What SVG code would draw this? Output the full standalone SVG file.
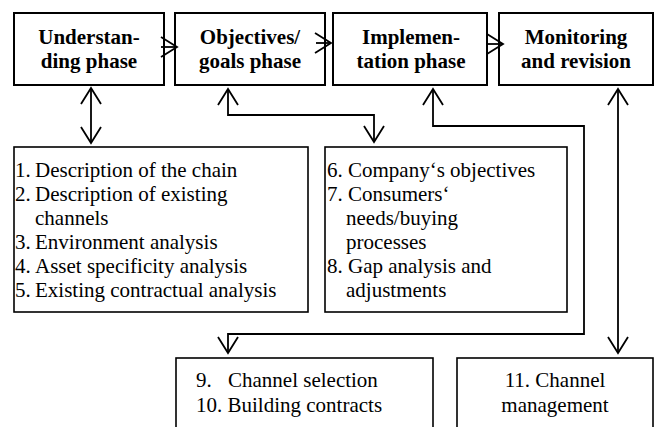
<svg xmlns="http://www.w3.org/2000/svg" width="655" height="427" viewBox="0 0 655 427">
<style>
.phase{fill:#fff;stroke:#000;stroke-width:2}
.box{fill:#fff;stroke:#000;stroke-width:1.6}
.pt{font-family:"Liberation Serif","Times New Roman",serif;font-size:21px;font-weight:bold;fill:#000;text-anchor:middle}
.lt{font-family:"Liberation Serif","Times New Roman",serif;font-size:21px;fill:#000}
.ct{text-anchor:middle}
.conn{fill:none;stroke:#000;stroke-width:1.8}
</style>
<defs>
<marker id="arr" viewBox="-17 -11 19 22" refX="0" refY="0" markerWidth="19" markerHeight="22" markerUnits="userSpaceOnUse" orient="auto-start-reverse">
<path d="M-16,-10 L0,0 L-16,10" fill="none" stroke="#000" stroke-width="1.8"/>
</marker>
</defs>
<rect width="655" height="427" fill="#fff"/>
<g id="understanding">
<rect class="phase" x="14" y="13" width="150" height="72"/>
<text class="pt" x="89" y="44">Understan-</text>
<text class="pt" x="89" y="68">ding phase</text>
</g>
<g id="objectives">
<rect class="phase" x="175" y="13" width="150" height="72"/>
<text class="pt" x="250" y="44">Objectives/</text>
<text class="pt" x="250" y="68">goals phase</text>
</g>
<g id="implementation">
<rect class="phase" x="333" y="13" width="154" height="72"/>
<text class="pt" x="411" y="44">Implemen-</text>
<text class="pt" x="411" y="68">tation phase</text>
</g>
<g id="monitoring">
<rect class="phase" x="499" y="13" width="154" height="72"/>
<text class="pt" x="576" y="44">Monitoring</text>
<text class="pt" x="576" y="68">and revision</text>
</g>
<g id="list1">
<rect class="box" x="14" y="147" width="294" height="165"/>
<text class="lt" x="15" y="177">1.</text><text class="lt" x="35" y="177">Description of the chain</text>
<text class="lt" x="15" y="201">2.</text><text class="lt" x="35" y="201">Description of existing</text>
<text class="lt" x="35" y="225">channels</text>
<text class="lt" x="15" y="249">3.</text><text class="lt" x="35" y="249">Environment analysis</text>
<text class="lt" x="15" y="273">4.</text><text class="lt" x="35" y="273">Asset specificity analysis</text>
<text class="lt" x="15" y="297">5.</text><text class="lt" x="35" y="297">Existing contractual analysis</text>
</g>
<g id="list2">
<rect class="box" x="325" y="147" width="242" height="165"/>
<text class="lt" x="327" y="177">6. Company‘s objectives</text>
<text class="lt" x="327" y="201">7. Consumers‘</text>
<text class="lt" x="346" y="225">needs/buying</text>
<text class="lt" x="346" y="249">processes</text>
<text class="lt" x="327" y="273">8. Gap analysis and</text>
<text class="lt" x="346" y="297">adjustments</text>
</g>
<g id="list3">
<rect class="box" x="176" y="358" width="257" height="80"/>
<text class="lt" x="196" y="387">9.</text><text class="lt" x="228" y="387">Channel selection</text>
<text class="lt" x="196" y="412">10. Building contracts</text>
</g>
<g id="list4">
<rect class="box" x="457" y="358" width="196" height="80"/>
<text class="lt ct" x="555" y="387">11. Channel</text>
<text class="lt ct" x="555" y="412">management</text>
</g>
<g id="connectors">
<path class="conn" d="M161,47 L177,47" marker-end="url(#arr)"/>
<path class="conn" d="M316,43 L331,43" marker-end="url(#arr)"/>
<path class="conn" d="M487,44 L503,44" marker-end="url(#arr)"/>
<path class="conn" d="M91,88 L91,143" marker-start="url(#arr)" marker-end="url(#arr)"/>
<path class="conn" d="M228,89 L228,115 L374,115 L374,142" marker-start="url(#arr)" marker-end="url(#arr)"/>
<path class="conn" d="M433,89 L433,126 L584,126 L584,334 L228,334 L228,353" marker-start="url(#arr)" marker-end="url(#arr)"/>
<path class="conn" d="M618,89 L618,353" marker-start="url(#arr)" marker-end="url(#arr)"/>
</g>
</svg>
